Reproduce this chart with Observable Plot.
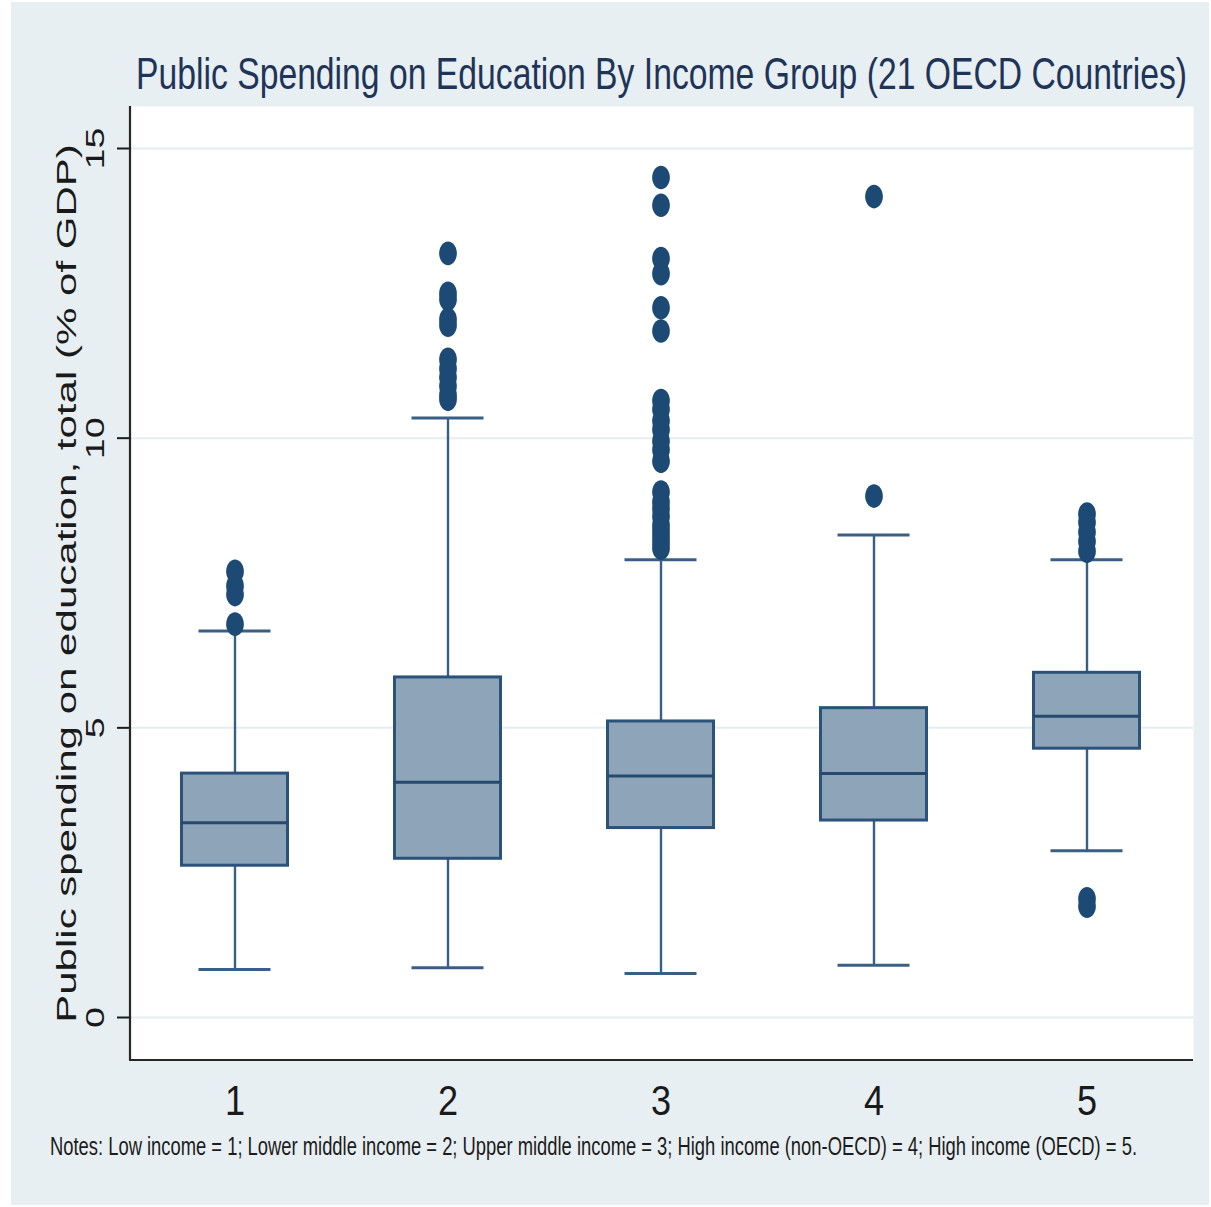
<!DOCTYPE html>
<html>
<head>
<meta charset="utf-8">
<script src="https://cdn.jsdelivr.net/npm/d3@7"></script>
<script src="https://cdn.jsdelivr.net/npm/@observablehq/plot@0.6"></script>
<style>
  html, body { margin: 0; padding: 0; background: #ffffff; }
  body { width: 1211px; height: 1207px; position: relative; overflow: hidden;
         font-family: "Liberation Sans", Arial, sans-serif; }
  #panel { position: absolute; left: 11px; top: 2px; width: 1198px; height: 1203px; background: #e8eff2; }
  #title { position: absolute; left: 125px; top: 49px; font-size: 45px; line-height: 1;
           color: #1e3458; white-space: nowrap; transform-origin: 0 0; }
  #notes { position: absolute; left: 39px; top: 1132px; font-size: 25px; line-height: 1;
           color: #1c1c1c; white-space: nowrap; transform-origin: 0 0; }
  #chart { position: absolute; left: 0; top: 96px; }
</style>
</head>
<body>
<div id="panel">
  <div id="title">Public Spending on Education By Income Group (21 OECD Countries)</div>
  <div id="chart"></div>
  <div id="notes">Notes: Low income = 1; Lower middle income = 2; Upper middle income = 3; High income (non-OECD) = 4; High income (OECD) = 5.</div>
</div>
<script>
// Income groups and the box-plot summaries of public education spending (% of GDP)
const groups = [1, 2, 3, 4, 5];
const q1 = [2.62, 2.74, 3.27, 3.40, 4.64];
const median = [3.36, 4.06, 4.17, 4.21, 5.20];
const q3 = [4.21, 5.87, 5.11, 5.34, 5.95];
const whiskerLow = [0.83, 0.86, 0.76, 0.90, 2.88];
const whiskerHigh = [6.67, 10.35, 7.90, 8.33, 7.90];

// Values outside the whiskers, one list per income group
const outliers1 = [7.70, 7.45, 7.30, 6.79];
const outliers2 = [13.19, 12.50, 12.40, 12.05, 11.95, 11.36, 11.20, 11.05, 10.90, 10.75, 10.67];
const outliers3 = [14.50, 14.02, 13.10, 12.84, 12.25, 11.85, 10.65, 10.50, 10.30, 10.15, 9.95, 9.80, 9.60,
                   9.07, 8.90, 8.78, 8.65, 8.50, 8.40, 8.30, 8.20, 8.10];
const outliers4 = [14.17, 9.00];
const outliers5 = [8.69, 8.55, 8.38, 8.22, 8.05, 2.05, 1.92];

const yTicks = [0, 5, 10, 15];
const yLabel = "Public spending on education, total (% of GDP)";

const boxes = groups.map((g, i) => ({
  group: g, q1: q1[i], median: median[i], q3: q3[i], lo: whiskerLow[i], hi: whiskerHigh[i]
}));
const outlierRows = [outliers1, outliers2, outliers3, outliers4, outliers5]
  .flatMap((vals, i) => vals.map(v => ({group: groups[i], value: v})));

// Slightly tall elliptical marker
const ellipse = {
  draw(context, size) {
    const r = Math.sqrt(size / Math.PI);
    const rx = r * 0.75, ry = r, k = 0.5523;
    context.moveTo(rx, 0);
    context.bezierCurveTo(rx, ry * k, rx * k, ry, 0, ry);
    context.bezierCurveTo(-rx * k, ry, -rx, ry * k, -rx, 0);
    context.bezierCurveTo(-rx, -ry * k, -rx * k, -ry, 0, -ry);
    context.bezierCurveTo(rx * k, -ry, rx, -ry * k, rx, 0);
    context.closePath();
  }
};

// Left and bottom axis lines drawn along the frame edges
function axisLines(index, scales, values, dims) {
  const {width, height, marginLeft, marginRight, marginTop, marginBottom} = dims;
  const g = d3.create("svg:g").attr("stroke", "#262626").attr("stroke-width", 2.2);
  g.append("line").attr("x1", marginLeft).attr("x2", marginLeft)
    .attr("y1", marginTop).attr("y2", height - marginBottom);
  g.append("line").attr("x1", marginLeft - 1).attr("x2", width - marginRight)
    .attr("y1", height - marginBottom).attr("y2", height - marginBottom);
  return g.node();
}

const boxFill = "#8ea4b9";
const boxStroke = "#2b5279";
const whisker = "#3a5f84";
const dotColor = "#1c4a74";
const boxInset = 53.5;
const capInset = 70.5;

const chart = Plot.plot({
  width: 1198,
  height: 1030,
  marginLeft: 119,
  marginRight: 16,
  marginTop: 8,
  marginBottom: 68,
  style: {background: "transparent", fontFamily: "'Liberation Sans', Arial, sans-serif", overflow: "visible"},
  x: {type: "band", domain: groups, padding: 0, insetLeft: -3, label: null},
  y: {domain: [-0.742, 15.725], label: null},
  marks: [
    Plot.frame({fill: "white", stroke: null}),
    Plot.ruleY(yTicks, {stroke: "#e4edf0", strokeWidth: 2}),
    Plot.ruleX(boxes, {x: "group", y1: "lo", y2: "q1", stroke: whisker, strokeWidth: 2.4}),
    Plot.ruleX(boxes, {x: "group", y1: "q3", y2: "hi", stroke: whisker, strokeWidth: 2.4}),
    Plot.tickY(boxes, {x: "group", y: "lo", stroke: whisker, strokeWidth: 3, insetLeft: capInset, insetRight: capInset}),
    Plot.tickY(boxes, {x: "group", y: "hi", stroke: whisker, strokeWidth: 3, insetLeft: capInset, insetRight: capInset}),
    Plot.barY(boxes, {x: "group", y1: "q1", y2: "q3", fill: boxFill, stroke: boxStroke, strokeWidth: 3,
                      insetLeft: boxInset, insetRight: boxInset}),
    Plot.tickY(boxes, {x: "group", y: "median", stroke: "#25496f", strokeWidth: 3,
                       insetLeft: boxInset, insetRight: boxInset}),
    Plot.dot(outlierRows, {x: "group", y: "value", symbol: ellipse, r: 11.8, fill: dotColor, stroke: null}),
    // tick marks (horizontal) and rotated tick labels as two axis marks
    Plot.axisY(yTicks, {tickSize: 13, tickFormat: () => "", color: "#1a1a1a", strokeWidth: 2, label: null}),
    Plot.axisY(yTicks, {tickSize: 0, tickPadding: 35, rotate: -90, textAnchor: "middle", lineAnchor: "middle",
                        tickFormat: d => String(d), fontSize: 26, color: "#1a1a1a", label: null}),
    Plot.axisX({tickSize: 0, tickPadding: 25, fontSize: 42, color: "#1a1a1a", label: null}),
    Plot.text([yLabel], {frameAnchor: "left", dx: -63, rotate: -90, textAnchor: "middle", lineAnchor: "middle",
                         fontSize: 27, fill: "#1a1a1a"}),
    axisLines
  ]
});

document.getElementById("chart").appendChild(chart);

// Stretch a text element's glyphs around its anchor point
function stretch(el, sx, sy) {
  const t = el.getAttribute("transform") || "";
  el.setAttribute("transform", `${t} scale(${sx},${sy})`);
}

chart.querySelectorAll('g[aria-label="x-axis tick label"] text').forEach(el => stretch(el, 0.86, 1));
chart.querySelectorAll('g[aria-label="y-axis tick label"] text').forEach(el => stretch(el, 1.45, 1));
chart.querySelectorAll("text").forEach(el => {
  if (el.textContent === yLabel) {
    const len = el.getBBox().width;
    stretch(el, 879 / len, 1);
  }
});

// Fit title and notes to their line lengths
function fitWidth(id, target) {
  const el = document.getElementById(id);
  const w = el.getBoundingClientRect().width;
  el.style.transform = `scale(${target / w}, 1)`;
}
fitWidth("title", 1051);
fitWidth("notes", 1087);
</script>
</body>
</html>
